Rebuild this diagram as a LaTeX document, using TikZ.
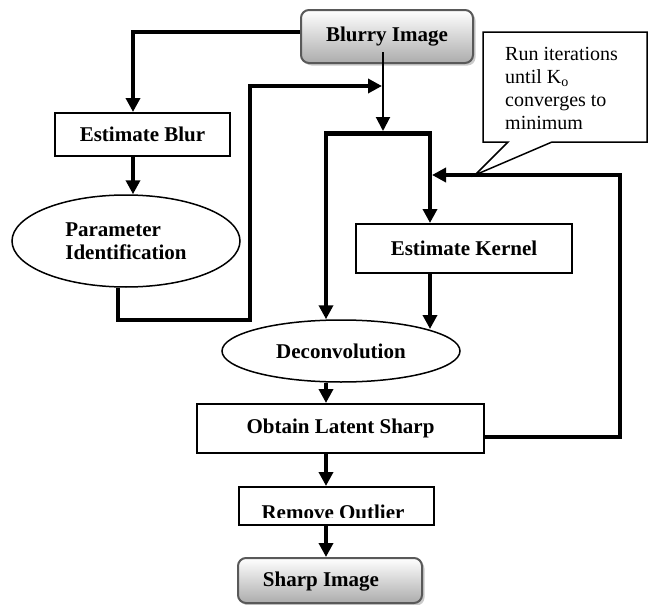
\documentclass[tikz,border=0pt]{standalone}
\usepackage{fontspec}
\setmainfont{Liberation Serif}
\usetikzlibrary{arrows.meta,shapes.geometric,shadows}
\begin{document}
\begin{tikzpicture}[x=1pt,y=-1pt,
  lbl/.style={inner sep=0pt,font=\fontsize{21}{23}\selectfont\bfseries},
  box/.style={draw,line width=2pt,inner sep=0pt,font=\fontsize{21}{23}\selectfont\bfseries},
  oval/.style={draw,ellipse,line width=1.5pt,inner sep=0pt,align=left,font=\fontsize{21}{23}\selectfont\bfseries},
  term/.style={draw=gray!70!black,line width=2pt,rounded corners=8pt,top color=white,bottom color=gray!65,inner sep=0pt,
    drop shadow={shadow xshift=2.5pt,shadow yshift=-2.5pt,fill=gray!70,opacity=0.6},
    font=\fontsize{21}{23}\selectfont\bfseries},
  heavy/.style={line width=4pt,-{Triangle[length=14pt,width=14pt]}},
  light/.style={line width=2pt,-{Triangle[length=14pt,width=14pt]}},
  callout/.style={draw,line width=1.5pt,fill=white,line join=miter}
]
\useasboundingbox (0,0) rectangle (649,605);

% nodes
\node[term,minimum width=172pt,minimum height=53pt] (blurry) at (387,36.5) {Blurry Image};
\node[box,minimum width=175pt,minimum height=43pt] (eblur) at (142.5,134.5) {Estimate Blur};
\node[oval,minimum width=228pt,minimum height=92pt] (param) at (126,241) {Parameter\\Identification};
\node[box,minimum width=216pt,minimum height=49pt] (ekernel) at (464,248.5) {Estimate Kernel};
\node[oval,minimum width=238pt,minimum height=62pt] (deconv) at (341,351) {Deconvolution};
\node[box,minimum width=287pt,minimum height=49pt] (latent) at (340.5,428.5) {Obtain Latent Sharp};
\node[box,minimum width=195pt,minimum height=38pt] (outlier) at (336.5,506) {};
\begin{scope}
  \clip (239,487) rectangle (434,517);
  \node[lbl,anchor=base] (outliertext) at (333,519.5) {Remove Outlier};
\end{scope}
\node[term,minimum width=184pt,minimum height=45pt] (sharp) at (330,580.5) {};
\node[lbl] (sharptext) at (321,582) {Sharp Image};

% callout
\draw[callout] (483,32) -- (647,32) -- (647,142) -- (552,142) -- (475,175) -- (508,142) -- (483,142) -- cycle;
\node[anchor=north west,align=left,inner sep=0pt,font=\fontsize{20}{23}\selectfont] (note) at (505,47)
  {Run iterations\\until K\textsubscript{o}\\converges to\\minimum};

% coordinates
\coordinate (c1) at (133,32);
\coordinate (c2) at (118,320);
\coordinate (c3) at (250,86);
\coordinate (vtop) at (383,52);
\coordinate (vbot) at (383,131);
\coordinate (bl) at (326,133);
\coordinate (br) at (430,133);
\coordinate (kd) at (430,329);
\coordinate (lr) at (620,437);
\coordinate (lt) at (620,175);
\coordinate (lend) at (432,175);
\coordinate (hend) at (382,86);

% connectors
\draw[heavy] (blurry.west |- c1) -| (eblur.north -| c1);
\draw[heavy] (eblur.south -| c1) -- (param.north -| c1);
\draw[heavy] (param.south -| c2) -- (c2) -| (c3) -- (hend);
\draw[light] (vtop) -- (vbot);
\draw[line width=5pt] ([xshift=-2pt]bl) -- ([xshift=2pt]br);
\draw[heavy] (bl) -- (deconv.north -| bl);
\draw[heavy] (br) -- (ekernel.north -| br);
\draw[heavy] (ekernel.south -| br) -- (kd);
\draw[heavy] (deconv.south -| bl) -- (latent.north -| bl);
\draw[heavy] (latent.east |- lr) -- (lr) -- (lt) -- (lend);
\draw[heavy] (latent.south -| bl) -- (outlier.north -| bl);
\draw[heavy] (outlier.south -| bl) -- (sharp.north -| bl);
\end{tikzpicture}
\end{document}
